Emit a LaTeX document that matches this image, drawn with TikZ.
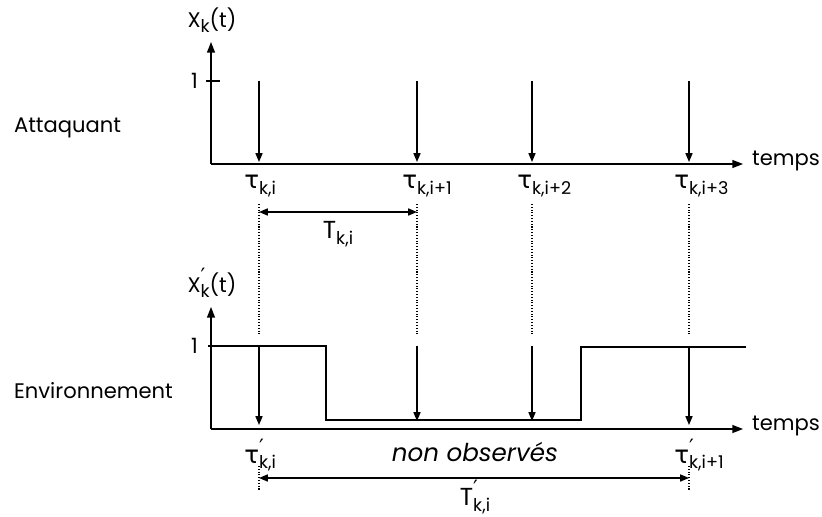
\documentclass[tikz,border=0pt]{standalone}
\usepackage{fontspec}
\setmainfont{Poppins}
\newfontfamily\grec{DejaVu Sans}
\usetikzlibrary{arrows.meta}
\newcommand\indice[1]{\raisebox{-0.45ex}{\fontsize{10}{12}\selectfont #1}}
\newcommand\prim{\rlap{\raisebox{0.75ex}{\grec\fontsize{12}{12}\selectfont ′}}}
\newcommand\tauk[1]{{\grec\fontsize{14}{16}\selectfont τ}\indice{#1}}
\newcommand\taukp[1]{{\grec\fontsize{14}{16}\selectfont τ}\prim\indice{#1}}
\begin{document}
\begin{tikzpicture}[
    x=0.02cm, y=-0.02cm,
    every node/.style={font=\fontsize{12}{14}\selectfont, inner sep=1pt},
    axe/.style={-{Triangle[length=6pt, width=4.5pt]}, line width=0.8pt},
    fleche/.style={-{Triangle[length=5pt, width=4pt]}, line width=0.7pt},
    cote/.style={{Triangle[length=5pt, width=4pt]}-{Triangle[length=5pt, width=4pt]}, line width=0.7pt},
    pointille/.style={densely dotted, line width=0.6pt},
    signal/.style={line width=0.8pt},
    instant/.style={anchor=north west, inner sep=0pt},
    duree/.style={font=\fontsize{14}{16}\selectfont, inner sep=0pt}
]
    \useasboundingbox (0,0) rectangle (822,517);

    % Attaquant
    \coordinate (oA) at (211,164);
    \coordinate (yA) at (211,42);
    \coordinate (xA) at (743,164);
    \draw[axe] (oA) -- (yA);
    \draw[axe] (oA) -- (xA);
    \node (labA)   at (212,20)             {X\indice{k}(t)};
    \node (tpsA)   [anchor=west] at (750,161) {temps};
    \node (attaq)  [anchor=west] at (12,128)  {Attaquant};
    \coordinate (unA) at (206,81);
    \draw[line width=0.7pt] (unA) -- +(14,0);
    \node (unAl) [anchor=east] at (200,81) {1};

    \foreach \n/\x in {1/259, 2/417, 3/532, 4/689} {
        \coordinate (hA\n) at (\x,81);
        \coordinate (bA\n) at (\x,162);
        \draw[fleche] (hA\n) -- (bA\n);
        \coordinate (p\n) at (\x,204);
        \coordinate (q\n) at (\x,336);
        \draw[pointille] (p\n) -- (q\n);
    }
    \node (tau1) [instant] at (244,175) {\tauk{k,i}};
    \node (tau2) [instant] at (402,175) {\tauk{k,i+1}};
    \node (tau3) [instant] at (517,175) {\tauk{k,i+2}};
    \node (tau4) [instant] at (674,175) {\tauk{k,i+3}};

    \coordinate (Tg) at (259,212);
    \coordinate (Td) at (417,212);
    \draw[cote] (Tg) -- (Td);
    \node (T) [duree] at (338,234) {T\indice{k,i}};

    % Environnement
    \coordinate (oE) at (211,429);
    \coordinate (yE) at (211,307);
    \coordinate (xE) at (743,429);
    \draw[axe] (oE) -- (yE);
    \draw[axe] (oE) -- (xE);
    \node (labE)  at (212,283) {X\prim\indice{k}(t)};
    \node (tpsE)  [anchor=west] at (750,426) {temps};
    \node (envir) [anchor=west] at (12,391)  {Environnement};
    \node (unEl)  [anchor=east] at (200,346) {1};

    \draw[signal] (208,346) -- (326,346) -- (326,420) -- (581,420)
        -- (581,347) -- (746,347);

    \coordinate (hE1) at (259,346); \coordinate (bE1) at (259,425);
    \coordinate (hE2) at (417,346); \coordinate (bE2) at (417,421);
    \coordinate (hE3) at (532,346); \coordinate (bE3) at (532,421);
    \coordinate (hE4) at (689,346); \coordinate (bE4) at (689,425);
    \foreach \n in {1,...,4} {
        \draw[fleche] (hE\n) -- (bE\n);
    }

    \node (taup1) [instant] at (244,439) {\taukp{k,i}};
    \node (taup2) [instant] at (674,439) {\taukp{k,i+1}};
    \node (nonobs) [duree] at (475,452) {\itshape non observés};

    \coordinate (r1) at (259,466); \coordinate (s1) at (259,491);
    \coordinate (r2) at (689,466); \coordinate (s2) at (689,491);
    \draw[pointille] (r1) -- (s1);
    \draw[pointille] (r2) -- (s2);
    \draw[cote] (259,478) -- (689,478);
    \node (Tp) [duree] at (475,497) {T\prim\indice{k,i}};
\end{tikzpicture}
\end{document}
